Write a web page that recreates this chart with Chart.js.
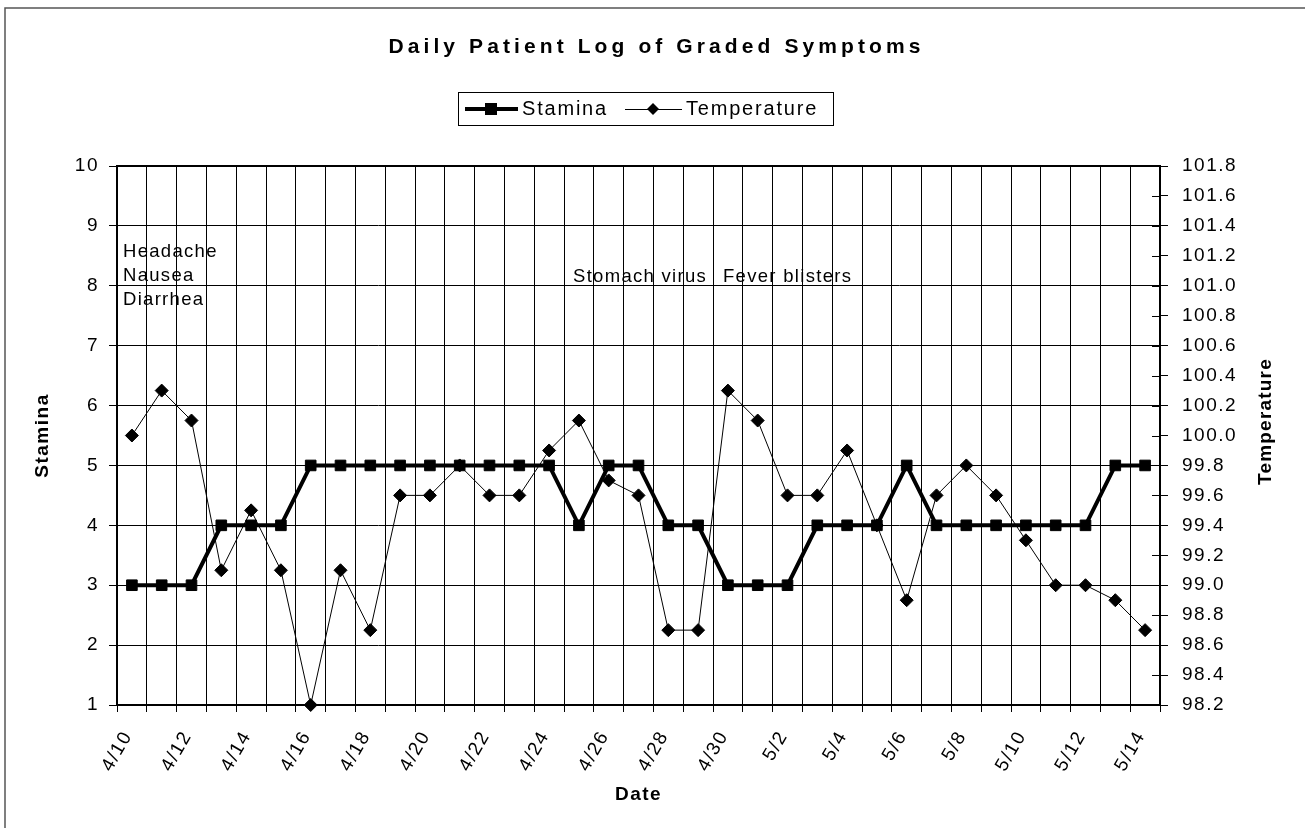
<!DOCTYPE html>
<html>
<head>
<meta charset="utf-8">
<script src="https://cdn.jsdelivr.net/npm/chart.js@4.4.1/dist/chart.umd.min.js"></script>
<style>
    html, body { margin: 0; padding: 0; background: #fff; }
    #wrap { width: 1305px; height: 828px; position: relative; }
</style>
</head>
<body>
<div id="wrap"><canvas id="symptom_chart"></canvas></div>
<script>
const chart_title = 'Daily Patient Log of Graded Symptoms';

const dates = ['4/10', '4/11', '4/12', '4/13', '4/14', '4/15', '4/16', '4/17', '4/18', '4/19',
    '4/20', '4/21', '4/22', '4/23', '4/24', '4/25', '4/26', '4/27', '4/28', '4/29', '4/30',
    '5/1', '5/2', '5/3', '5/4', '5/5', '5/6', '5/7', '5/8', '5/9', '5/10', '5/11', '5/12', '5/13', '5/14'];

const stamina = [3, 3, 3, 4, 4, 4, 5, 5, 5, 5, 5, 5, 5, 5, 5, 4, 5, 5, 4, 4, 3,
    3, 3, 4, 4, 4, 5, 4, 4, 4, 4, 4, 4, 5, 5];

const temperature = [100.0, 100.3, 100.1, 99.1, 99.5, 99.1, 98.2, 99.1, 98.7, 99.6,
    99.6, 99.8, 99.6, 99.6, 99.9, 100.1, 99.7, 99.6, 98.7, 98.7, 100.3,
    100.1, 99.6, 99.6, 99.9, 99.4, 98.9, 99.6, 99.8, 99.6, 99.3, 99.0, 99.0, 98.9, 98.7];

const note_early = ['Headache', 'Nausea', 'Diarrhea'];
const note_virus = 'Stomach virus';
const note_fever = 'Fever blisters';

const FONT = '"Liberation Sans", Arial, sans-serif';
const tick_font = { family: FONT, size: 19 };
const axis_title_font = { family: FONT, size: 19, weight: 'bold' };

// draws the frame, title, legend, notes and the inner ticks of the right axis
const decor_plugin = {
    id: 'decor',
    beforeDraw(chart) {
        chart.ctx.letterSpacing = '1.5px';
    },
    afterDraw(chart) {
        const ctx = chart.ctx;
        const area = chart.chartArea;
        const x_scale = chart.scales.x;
        const y_scale = chart.scales.y;
        const y2_scale = chart.scales.y2;

        ctx.save();
        ctx.fillStyle = '#000';

        // outer figure border
        ctx.lineWidth = 1.5;
        ctx.strokeStyle = '#555';
        ctx.strokeRect(5, 8, 1400, 900);

        // plot area frame
        ctx.strokeStyle = '#000';
        ctx.lineWidth = 2;
        ctx.strokeRect(area.left, area.top, area.right - area.left, area.bottom - area.top);

        // inner half of the right axis tick marks
        ctx.lineWidth = 1;
        const y2_ticks = y2_scale.ticks;
        for (let i = 1; i < y2_ticks.length - 1; i++) {
            const py = Math.round(y2_scale.getPixelForValue(y2_ticks[i].value)) + 0.5;
            ctx.beginPath();
            ctx.moveTo(area.right - 8, py);
            ctx.lineTo(area.right, py);
            ctx.stroke();
        }

        // title
        ctx.font = `bold 21px ${FONT}`;
        ctx.letterSpacing = '4.1px';
        ctx.textAlign = 'center';
        ctx.textBaseline = 'middle';
        ctx.fillText(chart_title, chart.width / 2 + 4, 47);

        // legend
        const sets = chart.data.datasets;
        ctx.lineWidth = 1;
        ctx.strokeRect(458.5, 92.5, 375, 33);
        const ly = 109;
        ctx.font = `20px ${FONT}`;
        ctx.letterSpacing = '1.8px';
        ctx.textAlign = 'left';

        ctx.lineWidth = 4;
        ctx.beginPath();
        ctx.moveTo(465, ly);
        ctx.lineTo(518, ly);
        ctx.stroke();
        ctx.fillRect(485, ly - 6, 12, 12);
        ctx.fillText(sets[0].label, 522, ly);

        ctx.lineWidth = 1;
        ctx.beginPath();
        ctx.moveTo(625, ly + 0.5);
        ctx.lineTo(682, ly + 0.5);
        ctx.stroke();
        ctx.beginPath();
        ctx.moveTo(653, ly - 6);
        ctx.lineTo(659, ly);
        ctx.lineTo(653, ly + 6);
        ctx.lineTo(647, ly);
        ctx.closePath();
        ctx.fill();
        ctx.fillText(sets[1].label, 686, ly);

        // right axis title, reading bottom to top
        ctx.save();
        ctx.font = `bold 19px ${FONT}`;
        ctx.letterSpacing = '1.2px';
        ctx.textAlign = 'center';
        ctx.translate(1266, (area.top + area.bottom) / 2 - 14);
        ctx.rotate(-Math.PI / 2);
        ctx.fillText('Temperature', 0, 0);
        ctx.restore();

        // notes inside the plot
        const half_cat = (x_scale.getPixelForValue(1) - x_scale.getPixelForValue(0)) / 2;
        ctx.font = `18.5px ${FONT}`;
        ctx.letterSpacing = '1.3px';
        ctx.textBaseline = 'alphabetic';
        const nx = x_scale.getPixelForValue(0) - half_cat + 6;
        note_early.forEach((text, i) => {
            ctx.fillText(text, nx, y_scale.getPixelForValue(8.48) + i * 24);
        });
        ctx.fillText(note_virus, x_scale.getPixelForValue(15) - half_cat + 9, y_scale.getPixelForValue(8.07));
        ctx.fillText(note_fever, x_scale.getPixelForValue(20) - half_cat + 10, y_scale.getPixelForValue(8.07));

        ctx.restore();
    }
};

const canvas = document.getElementById('symptom_chart');

new Chart(canvas, {
    type: 'line',
    data: {
        labels: dates,
        datasets: [{
            label: 'Stamina',
            data: stamina,
            yAxisID: 'y',
            borderColor: '#000',
            backgroundColor: '#000',
            borderWidth: 4,
            pointStyle: 'rect',
            pointRadius: 7.5,
            pointBorderWidth: 1,
            pointBackgroundColor: '#000',
            pointBorderColor: '#000',
            tension: 0,
            clip: false,
            order: 1
        }, {
            label: 'Temperature',
            data: temperature,
            yAxisID: 'y2',
            borderColor: '#000',
            backgroundColor: '#000',
            borderWidth: 1,
            pointStyle: 'rectRot',
            pointRadius: 6.5,
            pointBorderWidth: 1,
            pointBackgroundColor: '#000',
            pointBorderColor: '#000',
            tension: 0,
            clip: false,
            order: 0
        }]
    },
    options: {
        responsive: true,
        maintainAspectRatio: false,
        animation: false,
        events: [],
        layout: {
            padding: { left: 5, right: 5, top: 166, bottom: 5 }
        },
        plugins: {
            legend: { display: false },
            title: { display: false },
            tooltip: { enabled: false }
        },
        scales: {
            x: {
                type: 'category',
                offset: true,
                grid: { offset: true, color: '#000', lineWidth: 1, tickLength: 7 },
                border: { display: true, color: '#000', width: 2 },
                ticks: {
                    autoSkip: false,
                    minRotation: 60,
                    maxRotation: 60,
                    padding: 15,
                    labelOffset: -4,
                    color: '#000',
                    font: tick_font,
                    callback: (value, index) => (index % 2 === 0 ? dates[index] : '')
                },
                title: {
                    display: true,
                    text: 'Date',
                    color: '#000',
                    font: axis_title_font,
                    padding: { top: 0, bottom: 17 }
                },
                afterFit: (scale) => { scale.height = 118; }
            },
            y: {
                position: 'left',
                min: 1,
                max: 10,
                ticks: { stepSize: 1, padding: 10, color: '#000', font: tick_font },
                grid: { color: '#000', lineWidth: 1, tickLength: 8 },
                border: { display: true, color: '#000', width: 2 },
                title: {
                    display: true,
                    text: 'Stamina',
                    color: '#000',
                    font: axis_title_font,
                    padding: { top: 26, bottom: 0 }
                },
                afterFit: (scale) => { scale.width = 112; }
            },
            y2: {
                position: 'right',
                min: 98.2,
                max: 101.8,
                ticks: {
                    stepSize: 0.2,
                    padding: 14,
                    color: '#000',
                    font: tick_font,
                    callback: (value) => value.toFixed(1)
                },
                grid: { drawOnChartArea: false, color: '#000', lineWidth: 1, tickLength: 8 },
                border: { display: true, color: '#000', width: 2 },
                afterFit: (scale) => { scale.width = 140; }
            }
        }
    },
    plugins: [decor_plugin]
});
</script>
</body>
</html>
